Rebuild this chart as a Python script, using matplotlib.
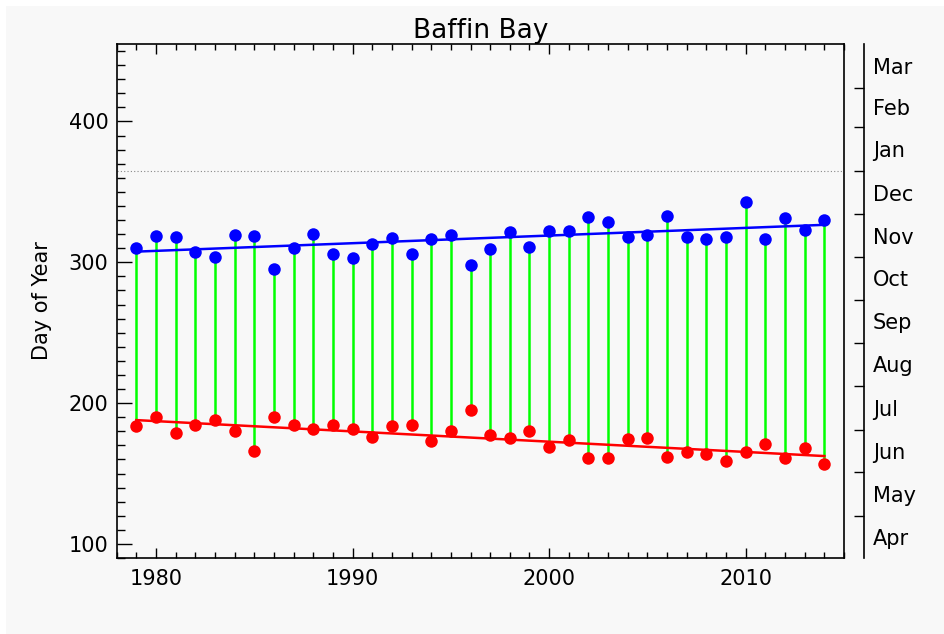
import matplotlib

matplotlib.use("Agg")
import matplotlib.pyplot as plt
import numpy as np
from matplotlib.patches import Rectangle

# Day of year
years = np.arange(1979, 2015)
freeze_doy = [
    310.0, 319.0, 317.8, 307.6, 304.0, 319.7, 319.0, 295.0, 310.2, 320.0,
    306.1, 303.1, 313.0, 317.3, 305.7, 316.6, 319.2, 298.1, 309.3, 321.4,
    310.9, 322.5, 322.1, 332.3, 328.9, 317.8, 319.7, 332.8, 317.8, 316.6,
    317.8, 342.5, 316.8, 331.1, 322.8, 330.2,
]
melt_doy = [
    183.8, 190.2, 178.6, 184.5, 188.1, 180.0, 166.2, 190.4, 184.7, 181.4,
    184.2, 181.7, 175.7, 183.8, 184.5, 173.1, 180.5, 195.4, 177.4, 175.5,
    180.0, 169.1, 173.6, 161.2, 161.2, 174.3, 175.0, 161.9, 165.3, 164.1,
    158.6, 165.0, 171.0, 160.9, 168.0, 156.7,
]
# month boundaries (day of year, counted on past Dec 31) and labels between them
month_edges = [90, 120, 151, 181, 212, 243, 273, 304, 334, 365, 396, 424, 455]
month_names = ["Apr", "May", "Jun", "Jul", "Aug", "Sep", "Oct", "Nov", "Dec",
               "Jan", "Feb", "Mar"]

BG = "#f8f8f8"
W, H = 945, 634
FS = 15

fig = plt.figure(figsize=(W / 100, H / 100), dpi=100, facecolor="white")
fig.patches.append(Rectangle((6 / W, 0), 1, 1 - 6 / H, transform=fig.transFigure,
                             facecolor=BG, edgecolor="none", zorder=-10))
ax = fig.add_axes([116.7 / W, 1 - 558 / H, (844 - 116.7) / W, (558 - 44) / H])
ax.set_facecolor(BG)

fr = np.asarray(freeze_doy)
ml = np.asarray(melt_doy)
ax.vlines(years, ml, fr, color="#00ff00", lw=1.8, zorder=2)
ax.plot(years, fr, "o", color="#0000ff", ms=9, mec="none", zorder=3)
ax.plot(years, ml, "o", color="#ff0000", ms=9, mec="none", zorder=3)
for vals, c in ((fr, "#0000ff"), (ml, "#ff0000")):
    p = np.polyfit(years, vals, 1)
    ax.plot(years[[0, -1]], np.polyval(p, years[[0, -1]]), color=c, lw=1.8, zorder=4)

ax.axhline(365, color="#888888", lw=0.8, ls=(0, (1, 2)), zorder=1)

ax.set_xlim(1978, 2015)
ax.set_ylim(90, 455)
ax.set_xticks([1980, 1990, 2000, 2010])
ax.set_xticks(np.arange(1978, 2016), minor=True)
ax.set_yticks([100, 200, 300, 400])
ax.set_yticks(np.arange(90, 456, 10), minor=True)
ax.tick_params(axis="both", which="both", direction="in", top=True, right=True,
               labelsize=FS, width=1.0)
ax.tick_params(axis="x", which="major", length=7.2, pad=8)
ax.tick_params(axis="x", which="minor", length=4)
ax.tick_params(axis="y", which="major", length=10.5, pad=6)
ax.tick_params(axis="y", which="minor", length=5.8)
for s in ax.spines.values():
    s.set_linewidth(1.2)

ax.set_ylabel("Day of Year", fontsize=FS)
ax.yaxis.set_label_coords(-0.089, 0.5)
ax.set_title("Baffin Bay", fontsize=19, pad=3)

# month axis on the far right
ax2 = ax.twinx()
ax2.set_ylim(90, 455)
for k in ("left", "top", "bottom"):
    ax2.spines[k].set_visible(False)
ax2.spines["right"].set_position(("axes", (864.3 - 116.7) / (844 - 116.7)))
ax2.spines["right"].set_linewidth(1.2)
ax2.set_yticks(month_edges[1:-1])
ax2.set_yticklabels([])
mids = [(a + b) / 2 for a, b in zip(month_edges[:-1], month_edges[1:])]
ax2.set_yticks(mids, minor=True)
ax2.set_yticklabels(month_names, minor=True)
ax2.tick_params(axis="y", which="major", direction="in", length=7.2, width=1.0)
ax2.tick_params(axis="y", which="minor", length=0, pad=6, labelsize=FS)

fig.savefig("out.png", dpi=100, facecolor="white")
